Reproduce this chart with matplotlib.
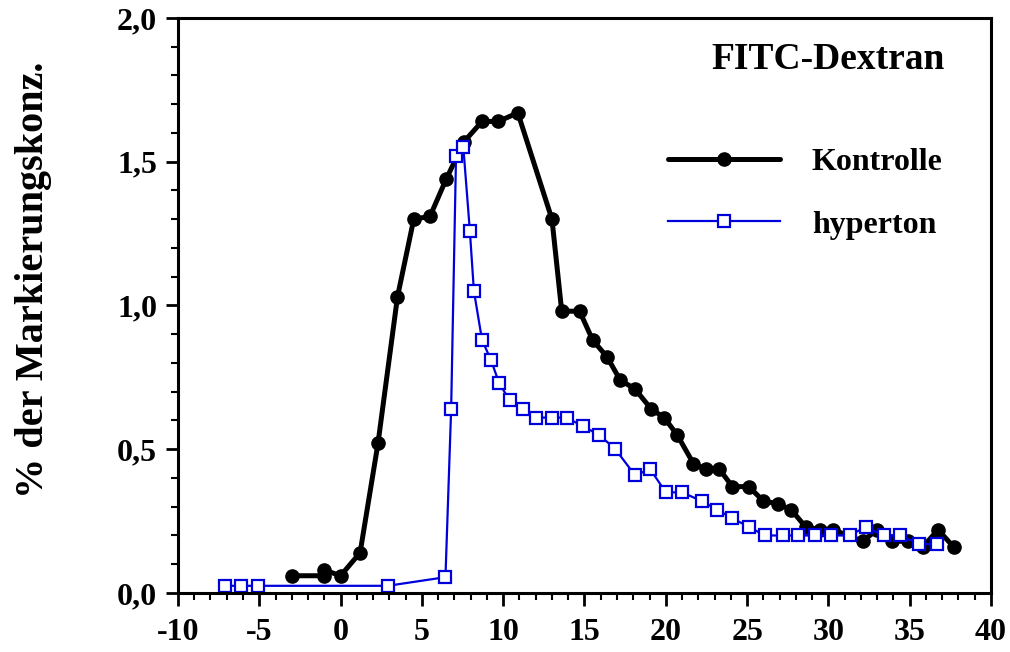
import matplotlib
matplotlib.use("Agg")
import matplotlib.pyplot as plt
from matplotlib.ticker import MultipleLocator, FuncFormatter

plt.rcParams['font.family'] = ['Liberation Serif', 'DejaVu Serif']
plt.rcParams['font.weight'] = 'bold'
plt.rcParams['axes.unicode_minus'] = False

# Kontrolle (black, filled circles)
kontrolle_x = [-3, -1, -1, 0, 1.2, 2.3, 3.5, 4.5, 5.5, 6.5, 7.6, 8.7, 9.7, 10.9,
               13.0, 13.6, 14.7, 15.5, 16.4, 17.2, 18.1, 19.1, 19.9, 20.7,
               21.7, 22.5, 23.3, 24.1, 25.1, 26.0, 26.9, 27.7, 28.6, 29.5, 30.3,
               32.1, 33.0, 33.9, 34.9, 35.8, 36.75, 37.7]
kontrolle_y = [0.06, 0.06, 0.08, 0.06, 0.14, 0.52, 1.03, 1.30, 1.31, 1.44, 1.57, 1.64, 1.64, 1.67,
               1.30, 0.98, 0.98, 0.88, 0.82, 0.74, 0.71, 0.64, 0.61, 0.55,
               0.45, 0.43, 0.43, 0.37, 0.37, 0.32, 0.31, 0.29, 0.23, 0.22, 0.22,
               0.18, 0.22, 0.18, 0.18, 0.16, 0.22, 0.16]

# hyperton (blue, open squares)
hyperton_x = [-7.1, -6.1, -5.1, 2.9, 6.45, 6.8, 7.1, 7.55, 7.95, 8.2, 8.7, 9.25, 9.75, 10.4,
              11.2, 12.0, 13.0, 13.9, 14.9, 15.9, 16.9, 18.1, 19.05, 20.0, 21.0, 22.2,
              23.15, 24.1, 25.1, 26.1, 27.2, 28.1, 29.2, 30.15, 31.3, 32.3, 33.4, 34.4,
              35.6, 36.7]
hyperton_y = [0.025, 0.025, 0.025, 0.025, 0.055, 0.64, 1.52, 1.55, 1.26, 1.05, 0.88, 0.81, 0.73, 0.67,
              0.64, 0.61, 0.61, 0.61, 0.58, 0.55, 0.50, 0.41, 0.43, 0.35, 0.35, 0.32,
              0.29, 0.26, 0.23, 0.20, 0.20, 0.20, 0.20, 0.20, 0.20, 0.23, 0.20, 0.20,
              0.17, 0.17]

fig = plt.figure(figsize=(10.1, 6.52), dpi=100)
ax = fig.add_axes([0.1762, 0.0905, 0.805, 0.882])

ax.plot(kontrolle_x, kontrolle_y, color='black', lw=3.6, marker='o', ms=9.5,
        label='Kontrolle', solid_capstyle='round')
ax.plot(hyperton_x, hyperton_y, color='#0000dd', lw=1.6, marker='s', ms=8.5,
        mfc='white', mec='#0000dd', mew=1.6, label='hyperton')

ax.set_xlim(-10, 40)
ax.set_ylim(0, 2.0)
ax.xaxis.set_major_locator(MultipleLocator(5))
ax.xaxis.set_minor_locator(MultipleLocator(1))
ax.yaxis.set_major_locator(MultipleLocator(0.5))
ax.yaxis.set_minor_locator(MultipleLocator(0.1))
ax.yaxis.set_major_formatter(FuncFormatter(lambda v, p: f"{v:.1f}".replace('.', ',')))
ax.xaxis.set_major_formatter(FuncFormatter(lambda v, p: f"{v:.0f}"))

ax.tick_params(which='major', direction='out', length=9, width=2, labelsize=23)
ax.tick_params(axis='x', which='major', pad=9)
ax.tick_params(axis='y', which='major', pad=6)
ax.tick_params(which='minor', direction='out', length=5, width=1.5)
for lab in ax.get_xticklabels() + ax.get_yticklabels():
    lab.set_fontweight('bold')
for s in ax.spines.values():
    s.set_linewidth(2.2)

ax.set_ylabel('% der Markierungskonz.', fontsize=29, fontweight='bold')
ax.yaxis.set_label_coords(-0.155, 0.544)

ax.text(0.943, 0.927, 'FITC-Dextran', transform=ax.transAxes, ha='right', va='center',
        fontsize=27, fontweight='bold')

ax.legend(loc='upper left', bbox_to_anchor=(0.603, 0.774), frameon=False,
          prop={'size': 23, 'weight': 'bold'}, handlelength=3.5, handletextpad=1.0,
          labelspacing=1.03, borderpad=0, borderaxespad=0, markerscale=1.0)

fig.savefig('out.png', dpi=100)
